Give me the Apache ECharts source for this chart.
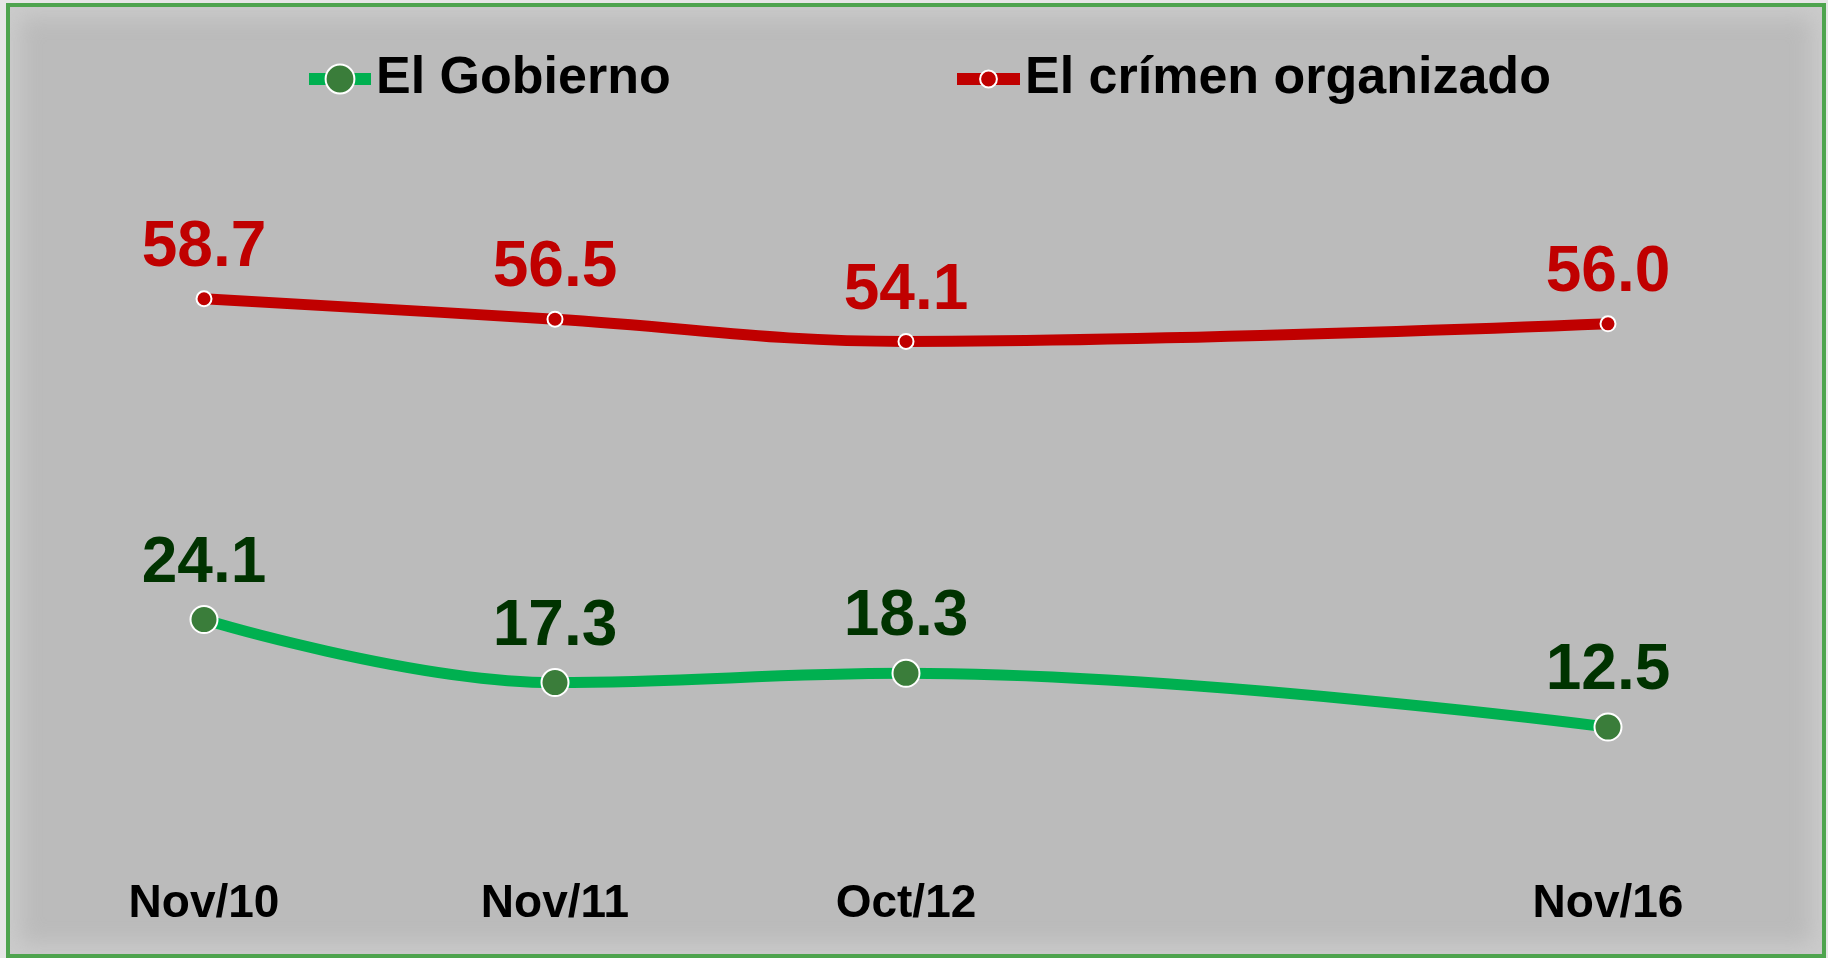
<!DOCTYPE html>
<html>
<head>
<meta charset="utf-8">
<script src="https://cdn.jsdelivr.net/npm/echarts@6/dist/echarts.min.js"></script>
<style>
  html, body { margin: 0; padding: 0; background: #e6e6e6; }
  #frame {
    position: absolute; left: 6px; top: 3px; width: 1812px; height: 947px;
    border: 4px solid #4ea44e; background: #bbbbbb;
    box-shadow: inset 0 0 22px 10px rgba(205,205,205,0.9);
  }
  #chart { position: absolute; left: 0; top: 0; width: 1828px; height: 958px; }
</style>
</head>
<body>
<div id="frame"></div>
<div id="chart"></div>
<script>
const categories = ['Nov/10', 'Nov/11', 'Oct/12', '', 'Nov/16'];
const gobierno = [24.1, 17.3, 18.3, null, 12.5];
const crimen = [58.7, 56.5, 54.1, null, 56.0];
const seriesNames = ['El Gobierno', 'El crímen organizado'];

const chart = echarts.init(document.getElementById('chart'), null, { renderer: 'canvas' });
const font = '"Liberation Sans", Arial, sans-serif';
chart.setOption({
  backgroundColor: 'transparent',
  animation: false,
  legend: [
    {
      data: [seriesNames[0]], left: 303, top: 53, padding: 0,
      itemWidth: 62, itemHeight: 36,
      lineStyle: { width: 12 },
      textStyle: { fontFamily: font, fontWeight: 'bold', fontSize: 52, color: '#000' }
    },
    {
      data: [seriesNames[1]], left: 951, top: 53, padding: 0,
      itemWidth: 63, itemHeight: 21,
      lineStyle: { width: 12 },
      textStyle: { fontFamily: font, fontWeight: 'bold', fontSize: 52, color: '#000' }
    }
  ],
  grid: { left: 28.5, right: 44.5, top: 194, bottom: 115 },
  xAxis: {
    type: 'category', data: categories, boundaryGap: true,
    axisLine: { show: false }, axisTick: { show: false }, splitLine: { show: false },
    axisLabel: { interval: 0, margin: 38, fontFamily: font, fontWeight: 'bold', fontSize: 46, color: '#000' }
  },
  yAxis: { type: 'value', min: 0, max: 70, show: false, splitLine: { show: false } },
  series: [
    {
      name: seriesNames[0], type: 'line', data: gobierno, connectNulls: true, smooth: 0.4,
      symbol: 'circle', symbolSize: 27,
      lineStyle: { color: '#00b050', width: 11 },
      itemStyle: { color: '#3a7d3a', borderColor: '#ffffff', borderWidth: 2 },
      label: { show: true, position: 'top', distance: 9, formatter: p => p.value.toFixed(1),
        fontFamily: font, fontWeight: 'bold', fontSize: 64, color: '#003300' }
    },
    {
      name: seriesNames[1], type: 'line', data: crimen, connectNulls: true, smooth: 0.4,
      symbol: 'circle', symbolSize: 15,
      lineStyle: { color: '#c00000', width: 11 },
      itemStyle: { color: '#c00000', borderColor: '#ffffff', borderWidth: 2 },
      label: { show: true, position: 'top', distance: 10, formatter: p => p.value.toFixed(1),
        fontFamily: font, fontWeight: 'bold', fontSize: 64, color: '#c00000' }
    }
  ]
});
</script>
</body>
</html>
